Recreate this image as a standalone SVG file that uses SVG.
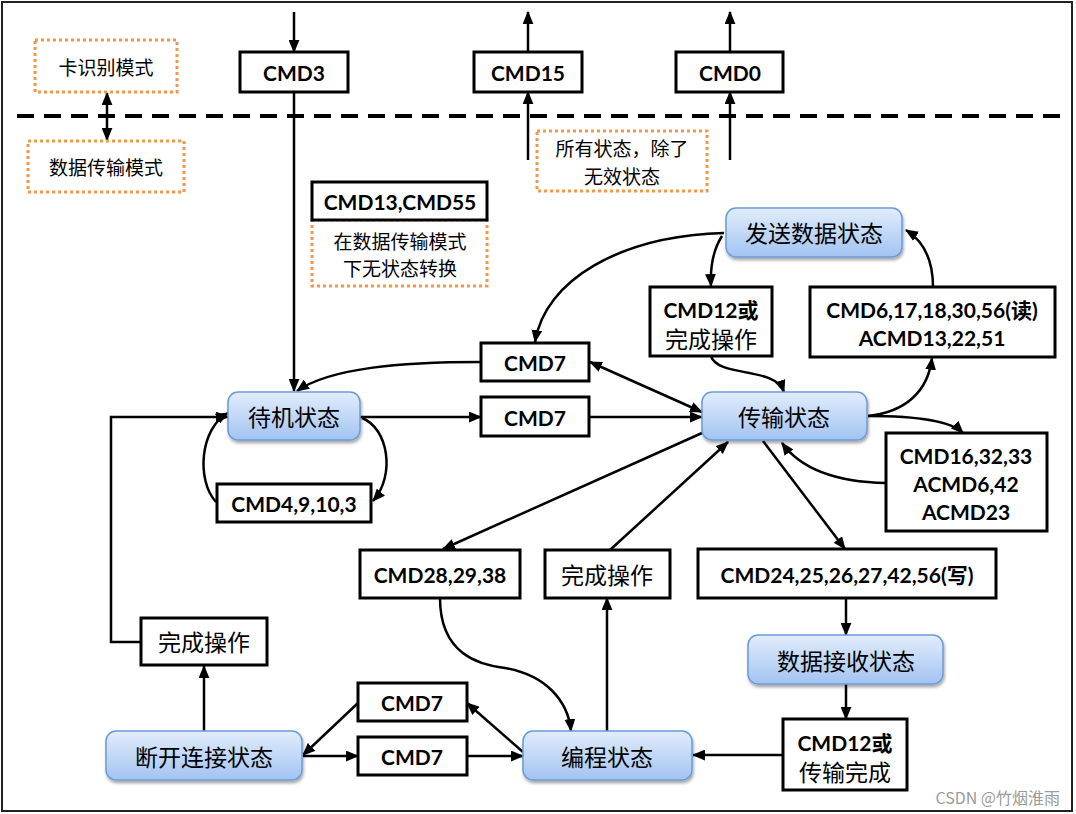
<svg xmlns="http://www.w3.org/2000/svg" width="1076" height="814" viewBox="0 0 1076 814">
<style>
.box{fill:#fff;stroke:#000;stroke-width:3}
.dot{fill:#fff;stroke:#F79646;stroke-width:3;stroke-dasharray:3 3}
.st{fill:url(#g);stroke:#6b9bd6;stroke-width:1.5;filter:url(#sh)}
.b{font-family:Lato,"Noto Sans CJK SC",sans-serif;font-weight:bold;font-size:21px;fill:#000;text-anchor:middle;dominant-baseline:central}
.c{font-family:"Noto Sans CJK SC",sans-serif;font-size:23px;fill:#000;text-anchor:middle;dominant-baseline:central}
.s{font-family:"Noto Sans CJK SC",sans-serif;font-size:19px;fill:#000;text-anchor:middle;dominant-baseline:central}
.ln{fill:none;stroke:#000;stroke-width:2.5}
</style>
<defs>
<linearGradient id="g" x1="0" y1="0" x2="0" y2="1">
<stop offset="0" stop-color="#e2edfc"/>
<stop offset="1" stop-color="#a2c3f2"/>
</linearGradient>
<filter id="sh" x="-10%" y="-20%" width="120%" height="150%">
<feDropShadow dx="1" dy="2.5" stdDeviation="1.5" flood-color="#000" flood-opacity="0.35"/>
</filter>
<marker id="a" viewBox="0 0 12 10" refX="11" refY="5" markerWidth="13" markerHeight="11" markerUnits="userSpaceOnUse" orient="auto-start-reverse">
<path d="M0,0 L12,5 L0,10 z" fill="#000"/>
</marker>
</defs>
<rect x="2" y="2" width="1070" height="809" fill="#fff" stroke="#222" stroke-width="2"/>
<line x1="17" y1="116" x2="1070" y2="116" stroke="#000" stroke-width="4" stroke-dasharray="17 10"/>

<g id="connectors" class="ln" marker-end="url(#a)">
<path d="M107,93 L107,140" marker-start="url(#a)"/>
<path d="M294,12 L294,52"/>
<path d="M294,92 L294,391"/>
<path d="M528,52 L528,12"/>
<path d="M528,160 L528,92"/>
<path d="M730,52 L730,12"/>
<path d="M730,160 L730,92"/>
<path d="M724,233 C620,236 545,280 535,342"/>
<path d="M722,236 C713,250 710,265 711,286"/>
<path d="M711,356 C718,378 775,366 784,392"/>
<path d="M933,287 C933,262 925,242 906,230"/>
<path d="M868,416 C905,412 928,392 932,358"/>
<path d="M868,416 C915,416 950,420 963,433"/>
<path d="M886,483 C835,482 800,468 782,443"/>
<path d="M763,441 L845,549"/>
<path d="M846,598 L846,635"/>
<path d="M846,684 L846,719"/>
<path d="M782,755 L693,755"/>
<path d="M607,731 L607,598"/>
<path d="M610,550 L728,442"/>
<path d="M702,433 L443,549"/>
<path d="M440,598 C440,655 480,665 505,668 C545,675 568,700 571,731"/>
<path d="M481,362 C400,362 330,368 297,391"/>
<path d="M360,417 L481,417"/>
<path d="M589,417 L702,417"/>
<path d="M590,362 L702,412" marker-start="url(#a)"/>
<path d="M362,418 C388,428 396,475 373,501"/>
<path d="M216,502 C196,480 200,428 228,413"/>
<path d="M141,642 L111,642 L111,417 L228,417"/>
<path d="M204,731 L204,666"/>
<path d="M358,703 L303,755"/>
<path d="M303,756 L358,756"/>
<path d="M467,756 L523,756"/>
<path d="M523,752 L467,703"/>
</g>

<g id="mode-card"><rect class="dot" x="35" y="40" width="142" height="52"/><text class="s" x="106" y="66" font-size="20">卡识别模式</text></g>
<g id="mode-data"><rect class="dot" x="28" y="141" width="156" height="51"/><text class="s" x="106" y="166" font-size="20">数据传输模式</text></g>
<g id="cmd3"><rect class="box" x="240" y="52" width="108" height="40"/><text class="b" x="294" y="72">CMD3</text></g>
<g id="cmd15"><rect class="box" x="474" y="52" width="108" height="40"/><text class="b" x="528" y="72">CMD15</text></g>
<g id="cmd0"><rect class="box" x="676" y="52" width="107" height="40"/><text class="b" x="730" y="72">CMD0</text></g>
<g id="note-all"><rect class="dot" x="537" y="131" width="170" height="60"/><text class="s" x="622" y="147.5">所有状态，除了</text><text class="s" x="622" y="175.2">无效状态</text></g>
<g id="note-cmd13"><rect class="dot" x="312" y="220" width="175" height="66"/><text class="s" x="400" y="240">在数据传输模式</text><text class="s" x="400" y="267.7">下无状态转换</text></g>
<g id="cmd13"><rect class="box" x="312" y="182" width="175" height="38"/><text class="b" x="400" y="201">CMD13,CMD55</text></g>
<g id="send"><rect class="st" x="726" y="208" width="176" height="49" rx="10"/><text class="c" x="814" y="232">发送数据状态</text></g>
<g id="cmd12a"><rect class="box" x="650" y="287" width="122" height="69"/><text class="b" x="711" y="309">CMD12或</text><text class="c" x="711" y="338">完成操作</text></g>
<g id="cmd6"><rect class="box" x="810" y="287" width="245" height="70"/><text class="b" x="932" y="309">CMD6,17,18,30,56(读)</text><text class="b" x="932" y="337">ACMD13,22,51</text></g>
<g id="cmd7a"><rect class="box" x="481" y="343" width="108" height="38"/><text class="b" x="535" y="362">CMD7</text></g>
<g id="cmd7b"><rect class="box" x="481" y="397" width="108" height="39"/><text class="b" x="535" y="417">CMD7</text></g>
<g id="standby"><rect class="st" x="228" y="392" width="132" height="48" rx="10"/><text class="c" x="294" y="416">待机状态</text></g>
<g id="transfer"><rect class="st" x="702" y="392" width="165" height="48" rx="10"/><text class="c" x="784" y="416">传输状态</text></g>
<g id="cmd16"><rect class="box" x="886" y="433" width="161" height="98"/><text class="b" x="966" y="455">CMD16,32,33</text><text class="b" x="966" y="483">ACMD6,42</text><text class="b" x="966" y="511">ACMD23</text></g>
<g id="cmd4"><rect class="box" x="217" y="484" width="154" height="38"/><text class="b" x="294" y="503">CMD4,9,10,3</text></g>
<g id="cmd28"><rect class="box" x="360" y="550" width="160" height="48"/><text class="b" x="440" y="574">CMD28,29,38</text></g>
<g id="done-mid"><rect class="box" x="545" y="550" width="125" height="48"/><text class="c" x="607" y="574">完成操作</text></g>
<g id="cmd24"><rect class="box" x="698" y="549" width="298" height="49"/><text class="b" x="847" y="574">CMD24,25,26,27,42,56(写)</text></g>
<g id="receive"><rect class="st" x="748" y="635" width="195" height="49" rx="10"/><text class="c" x="846" y="660">数据接收状态</text></g>
<g id="done-left"><rect class="box" x="141" y="618" width="126" height="47"/><text class="c" x="204" y="641">完成操作</text></g>
<g id="cmd7c"><rect class="box" x="358" y="683" width="109" height="38"/><text class="b" x="412" y="702">CMD7</text></g>
<g id="cmd7d"><rect class="box" x="358" y="737" width="109" height="38"/><text class="b" x="412" y="756">CMD7</text></g>
<g id="disconnect"><rect class="st" x="106" y="731" width="196" height="49" rx="10"/><text class="c" x="204" y="756">断开连接状态</text></g>
<g id="program"><rect class="st" x="523" y="731" width="169" height="49" rx="10"/><text class="c" x="607" y="756">编程状态</text></g>
<g id="cmd12b"><rect class="box" x="783" y="719" width="124" height="71"/><text class="b" x="845" y="742">CMD12或</text><text class="c" x="845" y="771">传输完成</text></g>
<text x="1060" y="797" font-family="'Noto Sans CJK SC',sans-serif" font-size="16" fill="#9a9a9a" text-anchor="end" dominant-baseline="central">CSDN @竹烟淮雨</text>
</svg>
